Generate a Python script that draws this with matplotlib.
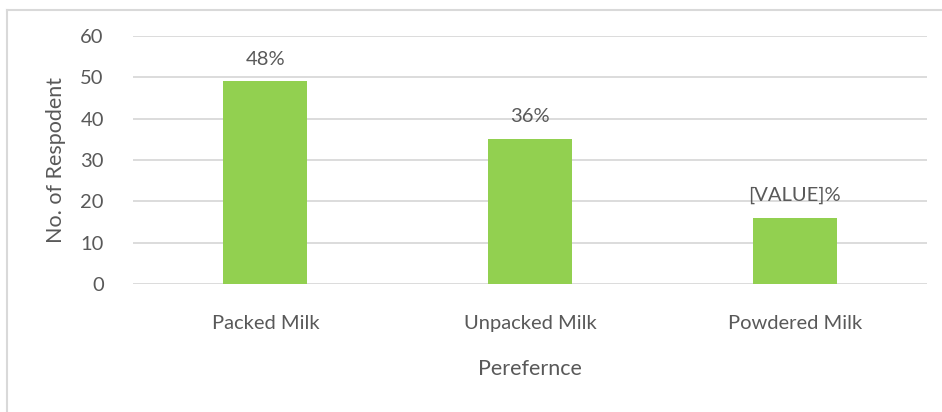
import matplotlib
matplotlib.use("Agg")
import matplotlib.pyplot as plt
from matplotlib.lines import Line2D

categories = ["Packed Milk", "Unpacked Milk", "Powdered Milk"]
values = [49, 35, 16]
labels = ["48%", "36%", "[VALUE]%"]
yticks = [0, 10, 20, 30, 40, 50, 60]

plt.rcParams['font.family'] = ['Lato', 'DejaVu Sans']
txt = "#595959"

fig = plt.figure(figsize=(9.42, 4.12), dpi=100)
ax = fig.add_axes([133/942, 1 - 284/412, (927-133)/942, (284-36)/412])

x = list(range(len(categories)))
bars = ax.bar(x, values, width=0.317, color="#92D050", zorder=3)
ax.set_xlim(-0.5, len(categories) - 0.5)
ax.set_ylim(0, 60)
ax.set_yticks(yticks)
ax.set_xticks(x)
ax.set_xticklabels(categories)
ax.tick_params(axis='both', length=0, colors=txt, labelsize=14.5)
ax.tick_params(axis='x', pad=22)
ax.tick_params(axis='y', pad=21)
ax.grid(axis='y', color="#D9D9D9", linewidth=1.3, zorder=0)
for s in ax.spines.values():
    s.set_visible(False)

for b, lab in zip(bars, labels):
    ax.annotate(lab, (b.get_x() + b.get_width()/2, b.get_height()),
                xytext=(0, 10), textcoords='offset points',
                ha='center', va='bottom', color=txt, fontsize=14.5)

ax.set_ylabel("No. of Respodent", color=txt, fontsize=15.5, labelpad=10)
ax.set_xlabel("Perefernce", color=txt, fontsize=15.5, labelpad=20)

# outer border (left and top)
fig.add_artist(Line2D([7/942, 7/942], [0, 1 - 10/412], transform=fig.transFigure, color="#D9D9D9", lw=1.5))
fig.add_artist(Line2D([7/942, 1], [1 - 10/412, 1 - 10/412], transform=fig.transFigure, color="#D9D9D9", lw=1.5))

fig.savefig("out.png", dpi=100, facecolor="white")
